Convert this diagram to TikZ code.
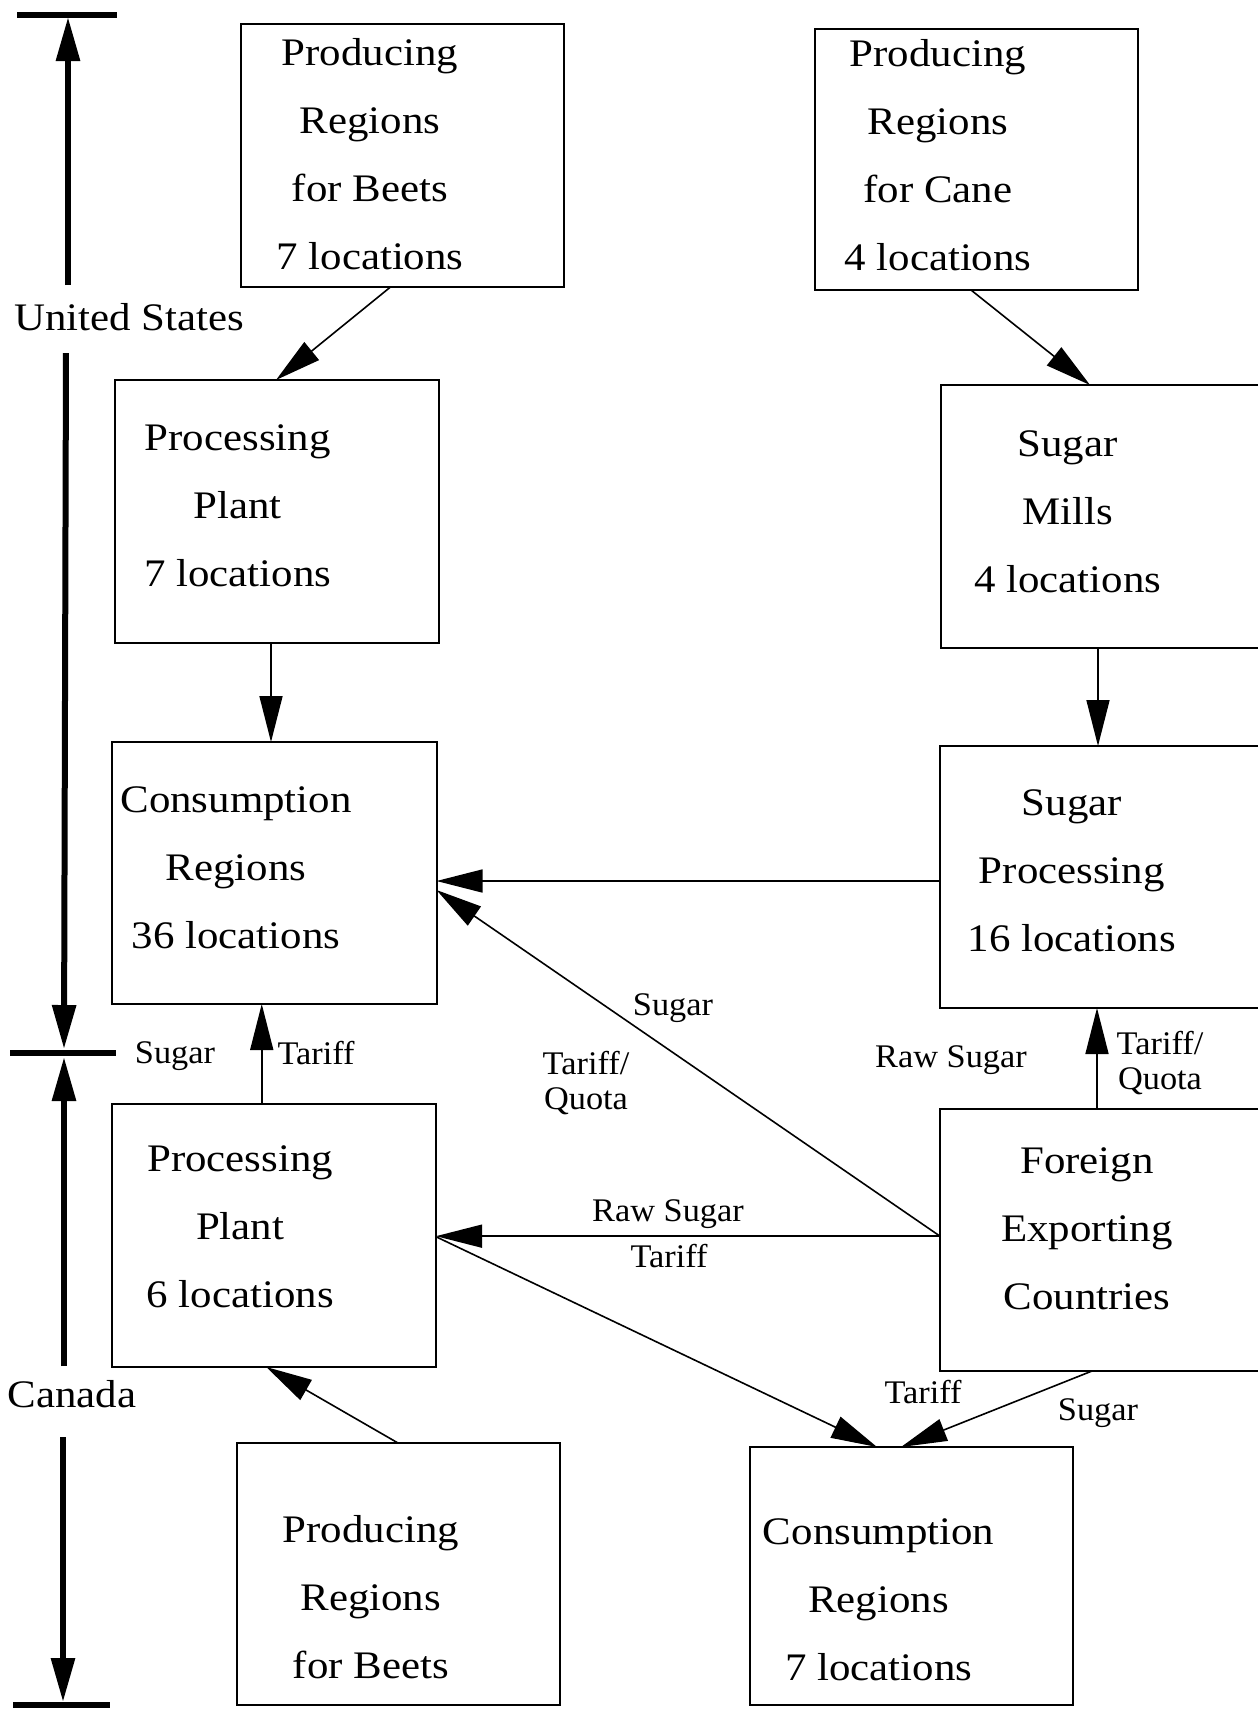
\documentclass[tikz,border=0pt]{standalone}
\usepackage{fontspec}
\setmainfont{Liberation Serif}
\newfontfamily\boxfamily{Liberation Serif}[FakeStretch=1.1]
\newfontfamily\lblfamily{Liberation Serif}[FakeStretch=1.04]
\usetikzlibrary{arrows.meta}
\begin{document}
\begin{tikzpicture}[x=0.5pt,y=-0.5pt,
  boxnode/.style={draw, line width=1pt, rectangle, inner sep=0pt, outer sep=0pt},
  openbox/.style={rectangle, inner sep=0pt, outer sep=0pt},
  openside/.style={line width=1pt},
  boxtext/.style={font=\boxfamily\fontsize{19.5}{34}\selectfont, align=center, inner sep=0pt},
  sidetext/.style={font=\boxfamily\fontsize{19.5}{34}\selectfont, inner sep=0pt, anchor=base},
  lbl/.style={font=\lblfamily\fontsize{16.5}{18.5}\selectfont, inner sep=0pt, anchor=base},
  lbltwo/.style={font=\lblfamily\fontsize{16.5}{17.5}\selectfont, inner sep=0pt, align=center},
  flow/.style={line width=0.8pt, -{Triangle[length=23pt,width=11.5pt]}},
  axisarrow/.style={line width=3pt, -{Triangle[length=22pt,width=11.5pt]}},
  axisbar/.style={line width=3pt},
]
\path[fill=white] (0,0) rectangle (1258,1710);

% ---- boxes ----
\node[boxnode, minimum width=161.5pt, minimum height=131.5pt] (b1) at (402.5,155.5) {};
\node[boxnode, minimum width=161.5pt, minimum height=130.5pt] (b2) at (976.5,159.5) {};
\node[boxnode, minimum width=162pt, minimum height=131.5pt] (b3) at (277,511.5) {};
\node[openbox, minimum width=158.5pt, minimum height=131.5pt] (b4) at (1099.5,516.5) {};
\node[boxnode, minimum width=162.5pt, minimum height=131pt] (b5) at (274,873) {};
\node[openbox, minimum width=159pt, minimum height=131pt] (b6) at (1099,877) {};
\node[boxnode, minimum width=162.25pt, minimum height=131.5pt] (b7) at (273.75,1235.5) {};
\node[openbox, minimum width=159pt, minimum height=131.25pt] (b8) at (1099,1239.75) {};
\node[boxnode, minimum width=161.5pt, minimum height=131pt] (b9) at (398,1574) {};
\node[boxnode, minimum width=161.5pt, minimum height=129pt] (b10) at (911,1576) {};

\draw[openside] (b4.north east) -- (b4.north west) -- (b4.south west) -- (b4.south east);
\draw[openside] (b6.north east) -- (b6.north west) -- (b6.south west) -- (b6.south east);
\draw[openside] (b8.north east) -- (b8.north west) -- (b8.south west) -- (b8.south east);

% ---- box texts ----
\node[boxtext] (t1) at (370,154) {Producing\\Regions\\for Beets\\7 locations};
\node[boxtext] (t2) at (938,155.5) {Producing\\Regions\\for Cane\\4 locations};
\node[boxtext] (t3) at (237.6,506) {Processing\\Plant\\7 locations};
\node[boxtext] (t4) at (1067.6,511.5) {Sugar\\Mills\\4 locations};
\node[boxtext] (t5) at (236,867.5) {Consumption\\Regions\\36 locations};
\node[boxtext] (t6) at (1071.8,871) {Sugar\\Processing\\16 locations};
\node[boxtext] (t7) at (240.2,1227) {Processing\\Plant\\6 locations};
\node[boxtext] (t8) at (1087,1228.5) {Foreign\\Exporting\\Countries};
\node[boxtext] (t9) at (370.8,1596.8) {Producing\\Regions\\for Beets};
\node[boxtext] (t10) at (878.6,1599.3) {Consumption\\Regions\\7 locations};

% ---- connectors ----
\draw[flow] ([xshift=-6pt]b1.south) -- ([xshift=-0.5pt]b3.north);
\draw[flow] ([xshift=-2.75pt]b2.south) -- ([xshift=-4.75pt]b4.north);
\draw[flow] ([xshift=-3pt]b3.south) -- ([xshift=-3pt]b3.south |- b5.north);
\draw[flow] ([xshift=-0.75pt]b4.south) -- ([xshift=-0.75pt]b4.south |- b6.north);
\draw[flow] ([yshift=-2pt]b6.west) -- ([yshift=-2pt]b6.west -| b5.east);
\draw[flow] ([yshift=1.8pt]b8.west) -- ([yshift=-8.5pt]b5.east);
\draw[flow] ([yshift=1.8pt]b8.west) -- ([yshift=1.8pt]b8.west -| b7.east);
\draw[flow] ([yshift=-0.6pt]b7.east) -- ([xshift=-17pt]b10.north);
\draw[flow] ([xshift=-3.5pt]b8.south) -- ([xshift=-5pt]b10.north);
\draw[flow] ([xshift=-6pt]b7.north) -- ([xshift=-6pt]b7.north |- b5.south);
\draw[flow] ([xshift=-1pt]b8.north) -- ([xshift=-1pt]b8.north |- b6.south);
\draw[flow] (b9.north) -- ([xshift=-3.75pt]b7.south);

% ---- connector labels ----
\node[lbl] (l1) at (175,1063.5) {Sugar};
\node[lbl] (l2) at (316,1064) {Tariff};
\node[lbl] (l3) at (673,1015) {Sugar};
\node[lbltwo] (l4) at (586,1083.4) {Tariff/\\Quota};
\node[lbl] (l5) at (951,1067.3) {Raw Sugar};
\node[lbltwo] (l6) at (1160,1063.4) {Tariff/\\Quota};
\node[lbl] (l7) at (668,1221.7) {Raw Sugar};
\node[lbl] (l8) at (669,1267.3) {Tariff};
\node[lbl] (l9) at (923,1403.3) {Tariff};
\node[lbl] (l10) at (1098,1420) {Sugar};

% ---- country axis ----
\coordinate (axTop) at (68,17);
\coordinate (axUsHigh) at (68,285);
\coordinate (axUsLow) at (66,353);
\coordinate (axMidUp) at (64,1049);
\coordinate (axMidDown) at (64,1057);
\coordinate (axCanHigh) at (64,1366);
\coordinate (axCanLow) at (63,1437);
\coordinate (axBot) at (63,1702);
\coordinate (barTopL) at (17,15);
\coordinate (barTopR) at (117,15);
\coordinate (barMidL) at (10,1053);
\coordinate (barMidR) at (116,1053);
\coordinate (barBotL) at (13,1705);
\coordinate (barBotR) at (110,1705);

\node[sidetext] (us) at (129.5,330) {United States};
\node[sidetext] (ca) at (72,1407) {Canada};

\draw[axisbar] (barTopL) -- (barTopR);
\draw[axisbar] (barMidL) -- (barMidR);
\draw[axisbar] (barBotL) -- (barBotR);
\draw[axisarrow] (axUsHigh) -- (axTop);
\draw[axisarrow] (axUsLow) -- (axMidUp);
\draw[axisarrow] (axCanHigh) -- (axMidDown);
\draw[axisarrow] (axCanLow) -- (axBot);
\end{tikzpicture}
\end{document}
